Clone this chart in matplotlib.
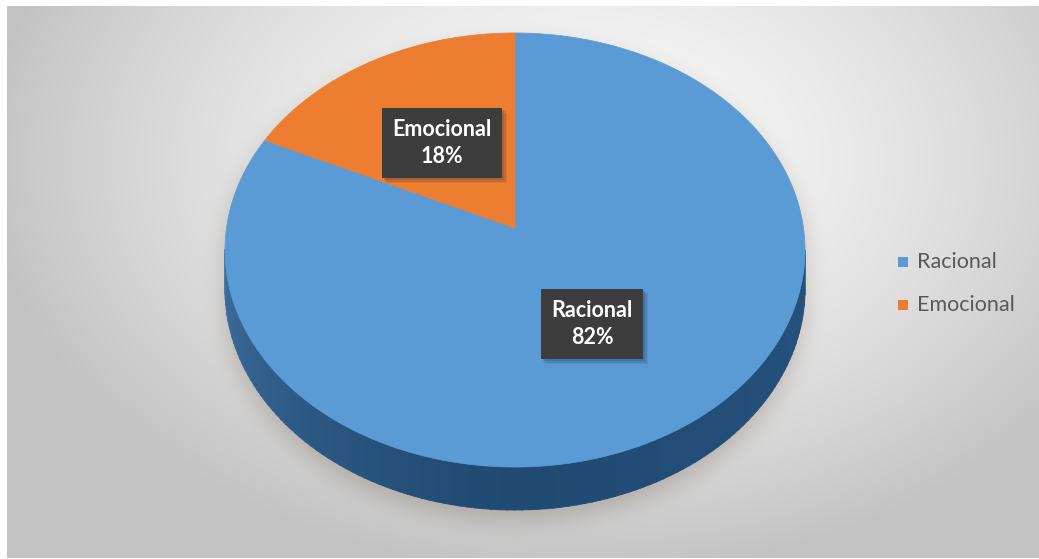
import numpy as np
import matplotlib
matplotlib.use("Agg")
import matplotlib.pyplot as plt
from matplotlib.path import Path
from matplotlib.patches import Polygon, Rectangle

labels = ["Racional", "Emocional"]
shares = [82, 18]
colors = ["#5b9bd5", "#ed7d31"]

W, H = 1039, 559
cx, cy = 515, 228        # projected centre of the disc
A, B = 288.5, 214.8      # radii before perspective
k = 0.1014               # perspective strength (far side smaller)
depth = 38.6             # thickness of the disc


def proj(theta, drop=0.0):
    # theta: radians, clockwise from 12 o'clock
    u = np.sin(theta)
    v = np.cos(theta)
    s = 1 + k * v
    return cx + A * u / s, cy - B * v / s + drop / s


def gauss_blur(img, sigma):
    r = int(3 * sigma)
    t = np.arange(-r, r + 1)
    g = np.exp(-t ** 2 / (2 * sigma ** 2))
    g /= g.sum()
    out = np.array([np.convolve(row, g, mode="same") for row in img])
    out = np.array([np.convolve(col, g, mode="same") for col in out.T]).T
    return out


fig = plt.figure(figsize=(W / 100, H / 100), dpi=100)
ax = fig.add_axes([0, 0, 1, 1])
ax.set_xlim(0, W)
ax.set_ylim(H, 0)
ax.axis("off")

# background: soft radial gradient
yy, xx = np.mgrid[0:H, 0:W] + 0.5
r = np.sqrt(((xx - 580) / 620) ** 2 + ((yy - 160) / 430) ** 2)
val = np.clip(250 - 58 * r ** 1.5, 195, 250) / 255.0
bg = np.dstack([val, val, val])

# silhouette of the whole disc, used for the drop shadow
a_side0 = np.arccos(-k)
a_side1 = 2 * np.pi - a_side0
back = np.linspace(a_side1 - 2 * np.pi, a_side0, 300)
front = np.linspace(a_side0, a_side1, 300)
bx, by = proj(back)
fx, fy = proj(front, depth)
outline = np.column_stack([np.r_[bx, fx], np.r_[by, fy]])
inside = Path(outline).contains_points(
    np.column_stack([xx.ravel(), yy.ravel() - 10])).reshape(H, W)
shadow = gauss_blur(inside.astype(float), 11)
tint = np.array([0.15, 0.18, 0.21])
bg = bg * (1 - shadow[..., None] * tint)

bg[:6, :] = 1
bg[:, :7] = 1
bg[558:, :] = 1
ax.imshow(bg, extent=(0, W, H, 0), interpolation="bilinear", zorder=0)

# side wall, shaded band by band
c_left = np.array([0x3f, 0x6f, 0x9f]) / 255
c_mid = np.array([0x1f, 0x4a, 0x72]) / 255
c_right = np.array([0x25, 0x52, 0x7e]) / 255
n = 120
edges = np.linspace(a_side0, a_side1, n + 1)
for i in range(n):
    t0, t1 = edges[i], edges[i + 1] + 0.004
    tt = np.linspace(t0, t1, 4)
    x0, y0 = proj(tt)
    x1, y1 = proj(tt[::-1], depth)
    f = (0.5 * (t0 + t1) - a_side0) / (a_side1 - a_side0)
    if f < 0.5:
        c = c_right + (c_mid - c_right) * (f / 0.5)
    else:
        c = c_mid + (c_left - c_mid) * ((f - 0.5) / 0.5) ** 1.3
    ax.add_patch(Polygon(np.column_stack([np.r_[x0, x1], np.r_[y0, y1]]),
                         closed=True, facecolor=c, edgecolor=c, lw=0.6, zorder=2))

# top face slices
total = sum(shares)
start = 0.0
for share, col in zip(shares, colors):
    span = 2 * np.pi * share / total
    tt = np.linspace(start, start + span, 200)
    x, y = proj(tt)
    pts = np.column_stack([np.r_[cx, x], np.r_[cy, y]])
    ax.add_patch(Polygon(pts, closed=True, facecolor=col, edgecolor=col,
                         lw=0.5, zorder=3))
    start += span

# data labels in dark boxes
label_pos = [(592, 324), (442, 143)]
boxes = []
for name, share, (lx, ly) in zip(labels, shares, label_pos):
    t = ax.text(lx, ly, f"{name}\n{share}%", ha="center", va="center",
                fontsize=15.5, family="Lato", weight="bold", color="white",
                linespacing=1.4,
                bbox=dict(boxstyle="square,pad=0.5", fc="#3d3d3d", ec="none"),
                zorder=5)
    boxes.append(t)

# soft drop shadow behind each label box
fig.canvas.draw()
inv = ax.transData.inverted()
for t in boxes:
    ext = t.get_bbox_patch().get_window_extent()
    (x0, y0), (x1, y1) = inv.transform([[ext.x0, ext.y0], [ext.x1, ext.y1]])
    left, top = min(x0, x1), min(y0, y1)
    w, h = abs(x1 - x0), abs(y1 - y0)
    for d, a in [(5, 0.08), (3.5, 0.12), (2, 0.15)]:
        ax.add_patch(Rectangle((left + d, top + d), w, h, facecolor="#10243c",
                               edgecolor="none", alpha=a, zorder=4))

# legend
leg_y = [262, 305]
for name, col, ly in zip(labels, colors, leg_y):
    ax.add_patch(Rectangle((898, ly - 5), 10, 10, facecolor=col,
                           edgecolor="none", zorder=5))
    ax.text(917, ly, name, ha="left", va="center", fontsize=15.5,
            family="Lato", color="#595959", zorder=5)

fig.savefig("out.png", dpi=100)
